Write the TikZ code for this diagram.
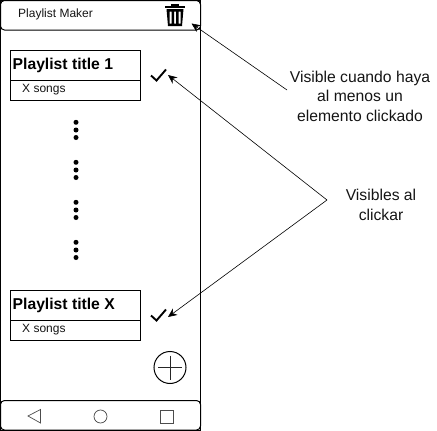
\documentclass[tikz,border=0pt]{standalone}
\usepackage{fontspec}
\setmainfont{Liberation Sans}
\usetikzlibrary{arrows.meta}
\definecolor{txt}{RGB}{20,20,20}
\tikzset{
  x=1pt,y=-1pt,
  outline/.style={draw=black,line width=1pt},
  bar/.style={outline,rounded corners=4pt},
  cell/.style={outline,fill=white,outer sep=0pt,inner sep=0pt,anchor=north west,minimum width=130pt},
  tick/.style={line width=1.9pt,line join=miter},
  dotmark/.style={circle,fill=black,inner sep=0pt,minimum size=5pt},
  label/.style={anchor=west,inner sep=0pt,font=\fontsize{12}{14}\selectfont,text=txt},
  cardtitle/.style={anchor=west,inner sep=0pt,font=\bfseries\fontsize{15.7}{18}\selectfont},
  note/.style={align=center,inner sep=0pt,font=\fontsize{15.7}{19.5}\selectfont,text=txt},
  callout/.style={line width=0.6pt,-{Stealth[length=9pt,width=8pt]}},
  softkey/.style={draw=black!70,line width=0.7pt},
}
\begin{document}
\begin{tikzpicture}
\useasboundingbox (0,0) rectangle (437,431);
% phone body
\draw[outline] (0.5,0.5) rectangle (200.5,430);
\draw[bar] (0.5,30) -- (0.5,0.5) -- (200.5,0.5) -- (200.5,30) -- cycle;
\draw[bar] (0.5,400.5) rectangle (200.5,430);
\node[label] (appname) at (18,14.5) {Playlist Maker};
% trash
\fill[black] (165,5.5) rectangle (185,8);
\fill[black] (171,3.5) rectangle (179,5.5);
\fill[black,even odd rule] (166.5,9) -- (183.5,9) -- (182,26) -- (168,26) -- cycle
  (169.5,11.5) rectangle (171.5,23.5) (174,11.5) rectangle (176,23.5) (178.5,11.5) rectangle (180.5,23.5);
% cards
\node[cell,minimum height=30pt] (t1) at (10.5,50.5) {};
\node[cell,minimum height=20pt] (s1) at (10.5,80.5) {};
\node[cardtitle] (t1l) at (12.5,65) {Playlist title 1};
\node[label] (s1l) at (22,89.5) {X songs};
\node[cell,minimum height=30pt] (tx) at (10.5,290.5) {};
\node[cell,minimum height=20pt] (sx) at (10.5,320.5) {};
\node[cardtitle] (txl) at (12.5,305) {Playlist title X};
\node[label] (sxl) at (22,329.5) {X songs};
% ticks
\coordinate (c1) at (168,75);
\coordinate (cx) at (168,317);
\draw[tick] (151,75.5) -- (156.5,80.5) -- (166,69.5);
\draw[tick] (151,315.5) -- (156.5,320.5) -- (166,309.5);
% dots
\foreach \y/\n in {122.3/a,130/b,137.5/c,162.3/d,170/e,177.5/f,202.3/g,210/h,217.5/i,242.3/j,250/k,257.5/l}
  \node[dotmark] (dot\n) at (76,\y) {};
% plus
\node[circle,draw=black,line width=1pt,minimum size=32pt,inner sep=0pt,outer sep=0pt] (plus) at (170,367.5) {};
\draw[line width=1pt,black!85] (plus.west) ++(4,0) -- ++(24,0);
\draw[line width=1pt,black!85] (plus.north) ++(0,4) -- ++(0,24);
% soft keys
\draw[softkey] (28,416) -- (40.5,409.5) -- (40.5,423) -- cycle;
\node[circle,softkey,minimum size=13pt,inner sep=0pt] (home) at (100.5,416.5) {};
\draw[softkey] (160.5,410) rectangle (173.5,423);
% notes
\node[note] (n1) at (360,96) {Visible cuando haya\\al menos un\\elemento clickado};
\node[note] (n2) at (381,205) {Visibles al\\clickar};
\coordinate (elbow) at (327,200);
\coordinate (n1s) at (287,90);
\coordinate (tr) at (191.5,23.5);
\draw[callout] (n1s) -- (tr);
\draw[callout] (elbow) -- (c1);
\draw[callout] (elbow) -- (cx);
\end{tikzpicture}
\end{document}
